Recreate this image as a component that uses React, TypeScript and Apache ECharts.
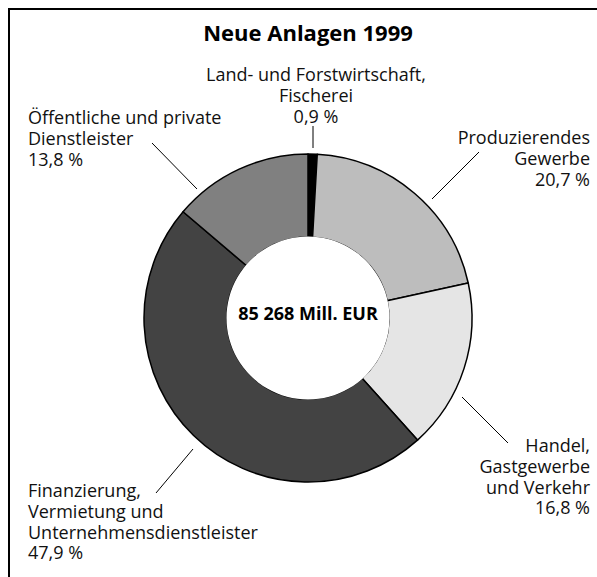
import { useEffect, useRef } from 'react';
import * as echarts from 'echarts';

const chartTitle = 'Neue Anlagen 1999';
const totalLabel = '85 268 Mill. EUR';
const categories = [
  'Land- und Forstwirtschaft,\nFischerei',
  'Produzierendes\nGewerbe',
  'Handel,\nGastgewerbe\nund Verkehr',
  'Finanzierung,\nVermietung und\nUnternehmensdienstleister',
  'Öffentliche und private\nDienstleister',
];
const shares = [0.9, 20.7, 16.8, 47.9, 13.8];
const sliceColors = ['#000000', '#bdbdbd', '#e5e5e5', '#434343', '#808080'];

const FONT = '"Open Sans", "DejaVu Sans", sans-serif';
const CX = 308;
const CY = 318;

const labelPlacement = [
  { x: 316, y: 126, align: 'center', verticalAlign: 'bottom', line: [[313, 126], [313, 148]] },
  { x: 590, y: 127, align: 'right', verticalAlign: 'top', line: [[479, 152], [432, 199]] },
  { x: 590, y: 435, align: 'right', verticalAlign: 'top', line: [[462, 397], [508, 443]] },
  { x: 28, y: 480, align: 'left', verticalAlign: 'top', line: [[193, 449], [156, 493]] },
  { x: 28, y: 107, align: 'left', verticalAlign: 'top', line: [[152, 143], [197, 189]] },
];

export default function App() {
  const ref = useRef<HTMLDivElement>(null);
  useEffect(() => {
    if (!ref.current) return;
    const chart = echarts.init(ref.current, null, { renderer: 'svg' });
    chart.setOption({
      animation: false,
      backgroundColor: '#ffffff',
      series: [
        {
          type: 'pie',
          center: [CX, CY],
          radius: [81, 164],
          startAngle: 90,
          clockwise: true,
          avoidLabelOverlap: false,
          silent: true,
          itemStyle: { borderColor: '#000', borderWidth: 1.5 },
          label: {
            show: true,
            position: 'outside',
            fontFamily: FONT,
            fontSize: 18,
            lineHeight: 20.7,
            color: '#111',
            formatter: (p: any) => `${p.name}\n${Number(p.value).toFixed(1).replace('.', ',')} %`,
          },
          labelLine: { show: true, length: 10, length2: 10, lineStyle: { color: '#000', width: 1 } },
          labelLayout: (params: any) => {
            const pl = labelPlacement[params.dataIndex];
            const [a, b] = pl.line;
            return {
              x: pl.x,
              y: pl.y,
              align: pl.align,
              verticalAlign: pl.verticalAlign,
              labelLinePoints: [a, a, b],
            };
          },
          data: categories.map((name, i) => ({
            name,
            value: shares[i],
            itemStyle: { color: sliceColors[i] },
          })),
        },
      ],
      graphic: [
        {
          type: 'rect',
          z: 0,
          shape: { x: 9, y: 9, width: 900, height: 900 },
          style: { fill: 'none', stroke: '#000', lineWidth: 2 },
        },
        {
          type: 'text',
          z: 10,
          x: 308,
          y: 32,
          style: {
            text: chartTitle,
            fontFamily: FONT,
            fontSize: 22,
            fontWeight: 'bold',
            fill: '#000',
            textAlign: 'center',
            textVerticalAlign: 'middle',
          },
        },
        {
          type: 'circle',
          z: 100,
          shape: { cx: CX, cy: CY, r: 81.5 },
          style: { fill: '#fff' },
        },
        {
          type: 'text',
          z: 101,
          x: CX,
          y: 313,
          style: {
            text: totalLabel,
            fontFamily: FONT,
            fontSize: 18,
            fontWeight: 'bold',
            fill: '#000',
            textAlign: 'center',
            textVerticalAlign: 'middle',
          },
        },
      ],
    });
    return () => chart.dispose();
  }, []);
  return (
    <div
      ref={ref}
      style={{ position: 'fixed', left: 0, top: 0, width: 597, height: 577, background: '#fff' }}
    />
  );
}
